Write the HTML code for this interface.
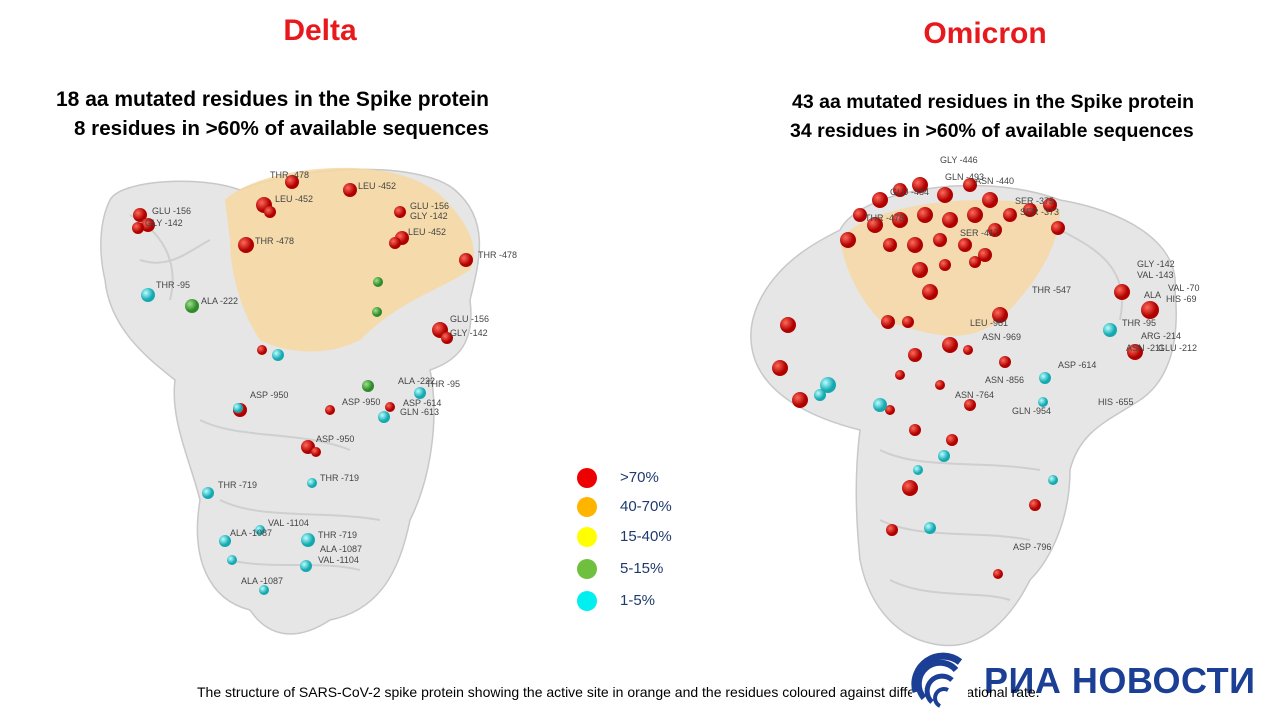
<!DOCTYPE html>
<html><head><meta charset="utf-8"><style>
html,body{margin:0;padding:0;background:#fff;}
body{width:1280px;height:722px;overflow:hidden;position:relative;font-family:"Liberation Sans",sans-serif;}
.t{position:absolute;white-space:nowrap;}
</style></head><body>
<svg width="1280" height="722" style="position:absolute;left:0;top:0">
<defs>
<radialGradient id="rd" cx="35%" cy="35%"><stop offset="0" stop-color="#ff6a5a"/><stop offset="1" stop-color="#b00000"/></radialGradient>
<radialGradient id="cy" cx="35%" cy="35%"><stop offset="0" stop-color="#b8ffff"/><stop offset="1" stop-color="#14a8b0"/></radialGradient>
<radialGradient id="gr" cx="35%" cy="35%"><stop offset="0" stop-color="#9fe08a"/><stop offset="1" stop-color="#2e8a2a"/></radialGradient>
</defs>
<g fill="#e6e6e6" stroke="#c8c8c8" stroke-width="1.5">
<path d="M110,200 C120,180 200,175 240,190 C300,165 420,160 455,190 C490,220 480,260 470,300 C475,340 460,360 430,370 C440,420 430,480 410,520 C400,570 380,610 330,620 C300,640 270,640 250,610 C210,600 190,560 200,500 C190,460 170,420 175,380 C150,360 110,330 105,280 C98,250 100,220 110,200 Z"/>
</g>
<path d="M225,200 C260,165 400,150 445,200 C470,225 480,250 470,270 C440,290 400,300 360,340 C320,360 280,350 260,340 C240,310 230,270 230,240 Z" fill="#f7d7a0" opacity="0.85"/>
<g fill="none" stroke="#cfcfcf" stroke-width="2">
<path d="M130,215 C160,230 180,260 170,300 M200,420 C240,440 300,430 350,450 M220,500 C260,520 320,510 380,520 M230,560 C270,570 320,560 360,570 M140,260 C170,270 190,250 210,240"/>
</g>
<path d="M760,300 C780,260 820,240 840,230 C860,190 980,170 1060,200 C1120,210 1180,240 1175,290 C1180,340 1170,380 1140,400 C1110,420 1080,430 1070,470 C1070,520 1050,560 1030,580 C1010,620 980,650 940,645 C900,640 870,610 860,560 C855,510 855,470 860,430 C820,420 770,400 755,360 C748,340 750,320 760,300 Z" fill="#e6e6e6" stroke="#c8c8c8" stroke-width="1.5"/>
<path d="M840,240 C870,200 1000,190 1060,210 C1060,250 1030,290 1000,320 C960,350 920,330 880,320 C860,300 845,270 840,240 Z" fill="#f7d7a0" opacity="0.8"/>
<g fill="none" stroke="#cfcfcf" stroke-width="2">
<path d="M1060,230 C1100,250 1130,270 1120,320 M880,450 C920,470 980,460 1040,470 M880,520 C920,540 980,530 1030,540 M890,580 C930,600 980,590 1010,600"/>
</g>
<g fill="url(#rd)">
<circle cx="140" cy="215" r="7"/><circle cx="148" cy="225" r="7"/><circle cx="138" cy="228" r="6"/>
<circle cx="292" cy="182" r="7"/><circle cx="350" cy="190" r="7"/><circle cx="264" cy="205" r="8"/><circle cx="270" cy="212" r="6"/>
<circle cx="400" cy="212" r="6"/><circle cx="402" cy="238" r="7"/><circle cx="395" cy="243" r="6"/>
<circle cx="246" cy="245" r="8"/><circle cx="466" cy="260" r="7"/>
<circle cx="440" cy="330" r="8"/><circle cx="447" cy="338" r="6"/><circle cx="262" cy="350" r="5"/>
<circle cx="240" cy="410" r="7"/><circle cx="330" cy="410" r="5"/><circle cx="390" cy="407" r="5"/>
<circle cx="308" cy="447" r="7"/><circle cx="316" cy="452" r="5"/>
</g>
<g fill="url(#cy)">
<circle cx="148" cy="295" r="7"/><circle cx="278" cy="355" r="6"/><circle cx="238" cy="408" r="5"/>
<circle cx="420" cy="393" r="6"/><circle cx="384" cy="417" r="6"/>
<circle cx="208" cy="493" r="6"/><circle cx="312" cy="483" r="5"/><circle cx="225" cy="541" r="6"/>
<circle cx="260" cy="530" r="5"/><circle cx="308" cy="540" r="7"/><circle cx="232" cy="560" r="5"/>
<circle cx="306" cy="566" r="6"/><circle cx="264" cy="590" r="5"/>
</g>
<g fill="url(#gr)">
<circle cx="192" cy="306" r="7"/><circle cx="378" cy="282" r="5"/><circle cx="377" cy="312" r="5"/><circle cx="368" cy="386" r="6"/>
</g>
<g fill="url(#rd)">
<circle cx="848" cy="240" r="8"/><circle cx="860" cy="215" r="7"/><circle cx="880" cy="200" r="8"/><circle cx="900" cy="190" r="7"/>
<circle cx="920" cy="185" r="8"/><circle cx="945" cy="195" r="8"/><circle cx="970" cy="185" r="7"/><circle cx="990" cy="200" r="8"/>
<circle cx="1010" cy="215" r="7"/><circle cx="1030" cy="210" r="7"/><circle cx="1050" cy="205" r="7"/><circle cx="1058" cy="228" r="7"/>
<circle cx="875" cy="225" r="8"/><circle cx="900" cy="220" r="8"/><circle cx="925" cy="215" r="8"/><circle cx="950" cy="220" r="8"/>
<circle cx="975" cy="215" r="8"/><circle cx="995" cy="230" r="7"/><circle cx="890" cy="245" r="7"/><circle cx="915" cy="245" r="8"/>
<circle cx="940" cy="240" r="7"/><circle cx="965" cy="245" r="7"/><circle cx="985" cy="255" r="7"/><circle cx="920" cy="270" r="8"/>
<circle cx="930" cy="292" r="8"/><circle cx="945" cy="265" r="6"/><circle cx="975" cy="262" r="6"/>
<circle cx="788" cy="325" r="8"/><circle cx="780" cy="368" r="8"/><circle cx="800" cy="400" r="8"/><circle cx="888" cy="322" r="7"/>
<circle cx="908" cy="322" r="6"/><circle cx="1000" cy="315" r="8"/><circle cx="1122" cy="292" r="8"/><circle cx="1150" cy="310" r="9"/>
<circle cx="1135" cy="352" r="8"/><circle cx="950" cy="345" r="8"/><circle cx="915" cy="355" r="7"/><circle cx="1005" cy="362" r="6"/>
<circle cx="900" cy="375" r="5"/><circle cx="940" cy="385" r="5"/><circle cx="890" cy="410" r="5"/><circle cx="970" cy="405" r="6"/>
<circle cx="915" cy="430" r="6"/><circle cx="952" cy="440" r="6"/><circle cx="910" cy="488" r="8"/><circle cx="892" cy="530" r="6"/>
<circle cx="1035" cy="505" r="6"/><circle cx="998" cy="574" r="5"/><circle cx="968" cy="350" r="5"/>
</g>
<g fill="url(#cy)">
<circle cx="828" cy="385" r="8"/><circle cx="820" cy="395" r="6"/><circle cx="880" cy="405" r="7"/><circle cx="1110" cy="330" r="7"/>
<circle cx="1045" cy="378" r="6"/><circle cx="1043" cy="402" r="5"/><circle cx="944" cy="456" r="6"/><circle cx="918" cy="470" r="5"/>
<circle cx="1053" cy="480" r="5"/><circle cx="930" cy="528" r="6"/>
</g>
</svg>
<div style="position:absolute;left:0;top:0;font-size:9px;color:#444;">
<span class="t" style="left:152px;top:206px">GLU -156</span><span class="t" style="left:145px;top:218px">GLY -142</span>
<span class="t" style="left:270px;top:170px">THR -478</span><span class="t" style="left:358px;top:181px">LEU -452</span>
<span class="t" style="left:275px;top:194px">LEU -452</span><span class="t" style="left:410px;top:201px">GLU -156</span>
<span class="t" style="left:410px;top:211px">GLY -142</span><span class="t" style="left:408px;top:227px">LEU -452</span>
<span class="t" style="left:255px;top:236px">THR -478</span><span class="t" style="left:478px;top:250px">THR -478</span>
<span class="t" style="left:156px;top:280px">THR -95</span><span class="t" style="left:201px;top:296px">ALA -222</span>
<span class="t" style="left:450px;top:314px">GLU -156</span><span class="t" style="left:450px;top:328px">GLY -142</span>
<span class="t" style="left:250px;top:390px">ASP -950</span><span class="t" style="left:398px;top:376px">ALA -222</span>
<span class="t" style="left:426px;top:379px">THR -95</span><span class="t" style="left:342px;top:397px">ASP -950</span>
<span class="t" style="left:403px;top:398px">ASP -614</span><span class="t" style="left:400px;top:407px">GLN -613</span>
<span class="t" style="left:316px;top:434px">ASP -950</span><span class="t" style="left:320px;top:473px">THR -719</span>
<span class="t" style="left:218px;top:480px">THR -719</span><span class="t" style="left:268px;top:518px">VAL -1104</span>
<span class="t" style="left:230px;top:528px">ALA -1087</span><span class="t" style="left:318px;top:530px">THR -719</span>
<span class="t" style="left:320px;top:544px">ALA -1087</span><span class="t" style="left:318px;top:555px">VAL -1104</span>
<span class="t" style="left:241px;top:576px">ALA -1087</span>
<span class="t" style="left:940px;top:155px">GLY -446</span><span class="t" style="left:945px;top:172px">GLN -493</span>
<span class="t" style="left:975px;top:176px">ASN -440</span><span class="t" style="left:890px;top:187px">GLU -484</span>
<span class="t" style="left:1015px;top:196px">SER -375</span><span class="t" style="left:1020px;top:207px">SER -373</span>
<span class="t" style="left:865px;top:213px">THR -478</span><span class="t" style="left:960px;top:228px">SER -417</span>
<span class="t" style="left:1137px;top:259px">GLY -142</span><span class="t" style="left:1137px;top:270px">VAL -143</span>
<span class="t" style="left:1168px;top:283px">VAL -70</span><span class="t" style="left:1144px;top:290px">ALA</span>
<span class="t" style="left:1166px;top:294px">HIS -69</span><span class="t" style="left:1032px;top:285px">THR -547</span>
<span class="t" style="left:970px;top:318px">LEU -981</span><span class="t" style="left:1122px;top:318px">THR -95</span>
<span class="t" style="left:1141px;top:331px">ARG -214</span><span class="t" style="left:1126px;top:343px">ASN -211</span>
<span class="t" style="left:1158px;top:343px">GLU -212</span><span class="t" style="left:982px;top:332px">ASN -969</span>
<span class="t" style="left:1058px;top:360px">ASP -614</span><span class="t" style="left:985px;top:375px">ASN -856</span>
<span class="t" style="left:955px;top:390px">ASN -764</span><span class="t" style="left:1098px;top:397px">HIS -655</span>
<span class="t" style="left:1012px;top:406px">GLN -954</span><span class="t" style="left:1013px;top:542px">ASP -796</span>
</div>
<div class="t" style="left:240px;top:14px;width:160px;text-align:center;color:#e8191c;font-weight:bold;font-size:30px;">Delta</div>
<div class="t" style="left:900px;top:17px;width:170px;text-align:center;color:#e8191c;font-weight:bold;font-size:30px;">Omicron</div>
<div class="t" style="left:56px;top:88px;font-weight:bold;font-size:21px;color:#000;">18 aa mutated residues in the Spike protein</div>
<div class="t" style="left:74px;top:117px;font-weight:bold;font-size:20.6px;color:#000;">8 residues in &gt;60% of available sequences</div>
<div class="t" style="left:792px;top:91px;font-weight:bold;font-size:19.5px;color:#000;">43 aa mutated residues in the Spike protein</div>
<div class="t" style="left:790px;top:120px;font-weight:bold;font-size:19.5px;color:#000;">34 residues in &gt;60% of available sequences</div>
<svg width="40" height="150" style="position:absolute;left:567px;top:465px">
<circle cx="20" cy="13" r="10" fill="#ee0000"/><circle cx="20" cy="42" r="10" fill="#ffb400"/>
<circle cx="20" cy="72" r="10" fill="#ffff00"/><circle cx="20" cy="104" r="10" fill="#70c040"/><circle cx="20" cy="136" r="10" fill="#00f0f0"/>
</svg>
<div style="position:absolute;left:620px;top:470px;font-size:15px;color:#1f3a6e;line-height:1;">
<div class="t" style="top:0">&gt;70%</div><div class="t" style="top:29px">40-70%</div><div class="t" style="top:59px">15-40%</div>
<div class="t" style="top:91px">5-15%</div><div class="t" style="top:123px">1-5%</div></div>
<div class="t" style="left:980px;top:660px;padding-left:4px;font-size:36px;font-weight:bold;color:#1b3f94;letter-spacing:0.5px;">РИА НОВОСТИ</div>
<div class="t" style="left:197px;top:684px;font-size:14px;color:#000;">The structure of SARS-CoV-2 spike protein showing the active site in orange and the residues coloured against different mutational rate.</div>
<div style="position:absolute;left:912px;top:650px;width:56px;height:72px;background:#fff;"></div>
<svg width="64" height="64" style="position:absolute;left:910px;top:652px">
<path d="M6,40 A28,28 0 0 1 50,10" stroke="#1b3f94" stroke-width="7" fill="none"/>
<path d="M14,46 A20,20 0 0 1 46,18" stroke="#1b3f94" stroke-width="6" fill="none"/>
<path d="M22,50 A13,13 0 0 1 42,28" stroke="#1b3f94" stroke-width="5" fill="none"/>
<path d="M30,54 A6,6 0 0 1 38,38" stroke="#1b3f94" stroke-width="4" fill="none"/>
</svg>
</body></html>
